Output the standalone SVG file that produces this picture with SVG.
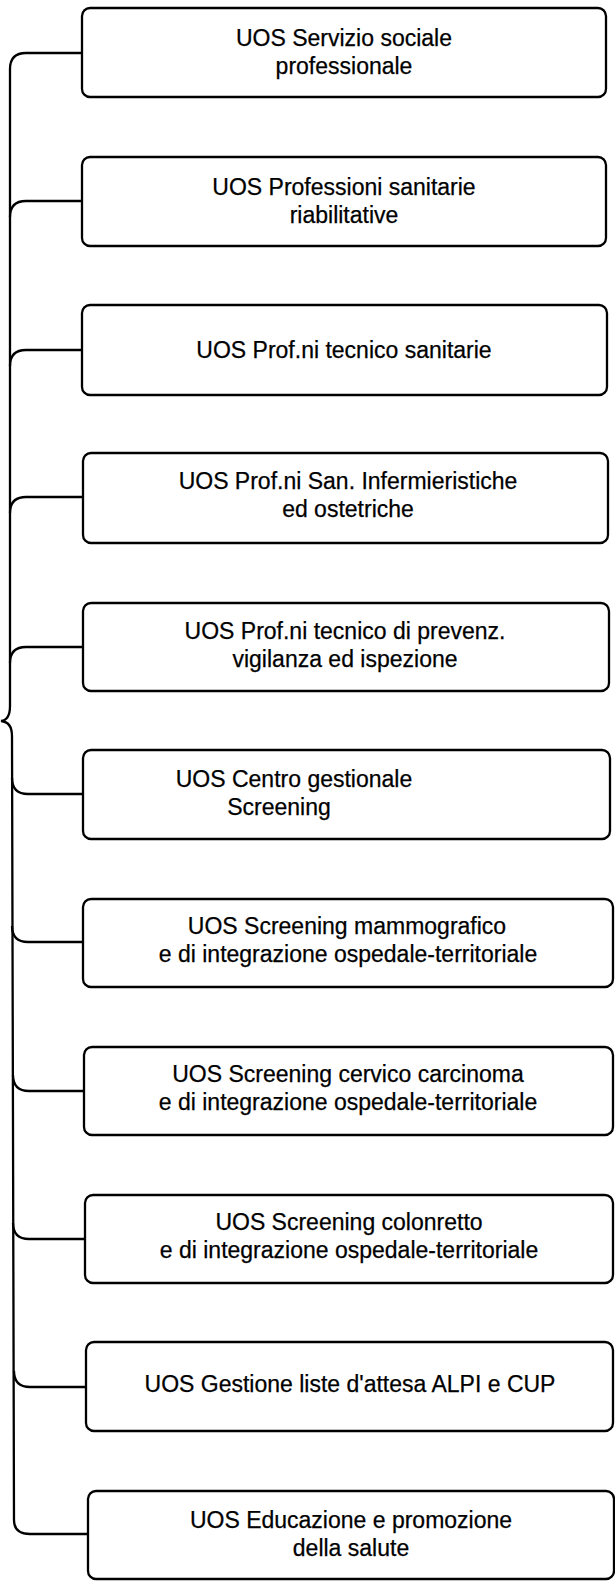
<svg xmlns="http://www.w3.org/2000/svg" width="615" height="1587" viewBox="0 0 615 1587">
<style>
.box{fill:#fff;stroke:#000;stroke-width:2.3}
.ln{fill:none;stroke:#000;stroke-width:2.3}
text{font-family:"Liberation Sans",Arial,sans-serif;font-size:23px;fill:#000;stroke:#000;stroke-width:0.25;text-anchor:middle}
</style>
<rect width="615" height="1587" fill="#fff"/>
<g id="connectors">
<path class="ln" d="M82,53 H26 Q10,53 10,69 V706 Q10,720 1,721 Q12,722 12,736 L14,1520 Q14,1534 30,1534 H88"/>
<path class="ln" d="M82,201 H26 Q10,201 10,217"/>
<path class="ln" d="M82,350 H26 Q10,350 10,366"/>
<path class="ln" d="M83,497 H26 Q10,497 10,513"/>
<path class="ln" d="M83,647 H26 Q10,647 10,663"/>
<path class="ln" d="M12,778 Q12,794 28,794 H83"/>
<path class="ln" d="M12,926 Q12,942 28,942 H83"/>
<path class="ln" d="M13,1075 Q13,1091 29,1091 H84"/>
<path class="ln" d="M13,1223 Q13,1239 29,1239 H85"/>
<path class="ln" d="M14,1371 Q14,1387 30,1387 H86"/>
</g>
<g id="n1"><rect class="box" x="82" y="8" width="524" height="89" rx="8"/><text x="344" y="46">UOS Servizio sociale</text><text x="344" y="74">professionale</text></g>
<g id="n2"><rect class="box" x="82" y="157" width="524" height="89" rx="8"/><text x="344" y="195">UOS Professioni sanitarie</text><text x="344" y="223">riabilitative</text></g>
<g id="n3"><rect class="box" x="82" y="305" width="525" height="90" rx="8"/><text x="344" y="358">UOS Prof.ni tecnico sanitarie</text></g>
<g id="n4"><rect class="box" x="83" y="453" width="525" height="90" rx="8"/><text x="348" y="489">UOS Prof.ni San. Infermieristiche</text><text x="348" y="517">ed ostetriche</text></g>
<g id="n5"><rect class="box" x="83" y="603" width="526" height="88" rx="8"/><text x="345" y="639">UOS Prof.ni tecnico di prevenz.</text><text x="345" y="667">vigilanza ed ispezione</text></g>
<g id="n6"><rect class="box" x="83" y="750" width="527" height="89" rx="8"/><text x="294" y="787">UOS Centro gestionale</text><text x="279" y="815">Screening</text></g>
<g id="n7"><rect class="box" x="83" y="899" width="530" height="88" rx="8"/><text x="347" y="934">UOS Screening mammografico</text><text x="348" y="962">e di integrazione ospedale-territoriale</text></g>
<g id="n8"><rect class="box" x="84" y="1047" width="529" height="88" rx="8"/><text x="348" y="1082">UOS Screening cervico carcinoma</text><text x="348" y="1110">e di integrazione ospedale-territoriale</text></g>
<g id="n9"><rect class="box" x="85" y="1195" width="528" height="88" rx="8"/><text x="349" y="1230">UOS Screening colonretto</text><text x="349" y="1258">e di integrazione ospedale-territoriale</text></g>
<g id="n10"><rect class="box" x="86" y="1342" width="527" height="89" rx="8"/><text x="350" y="1392">UOS Gestione liste d'attesa ALPI e CUP</text></g>
<g id="n11"><rect class="box" x="88" y="1491" width="526" height="88" rx="8"/><text x="351" y="1528">UOS Educazione e promozione</text><text x="351" y="1556">della salute</text></g>
</svg>
